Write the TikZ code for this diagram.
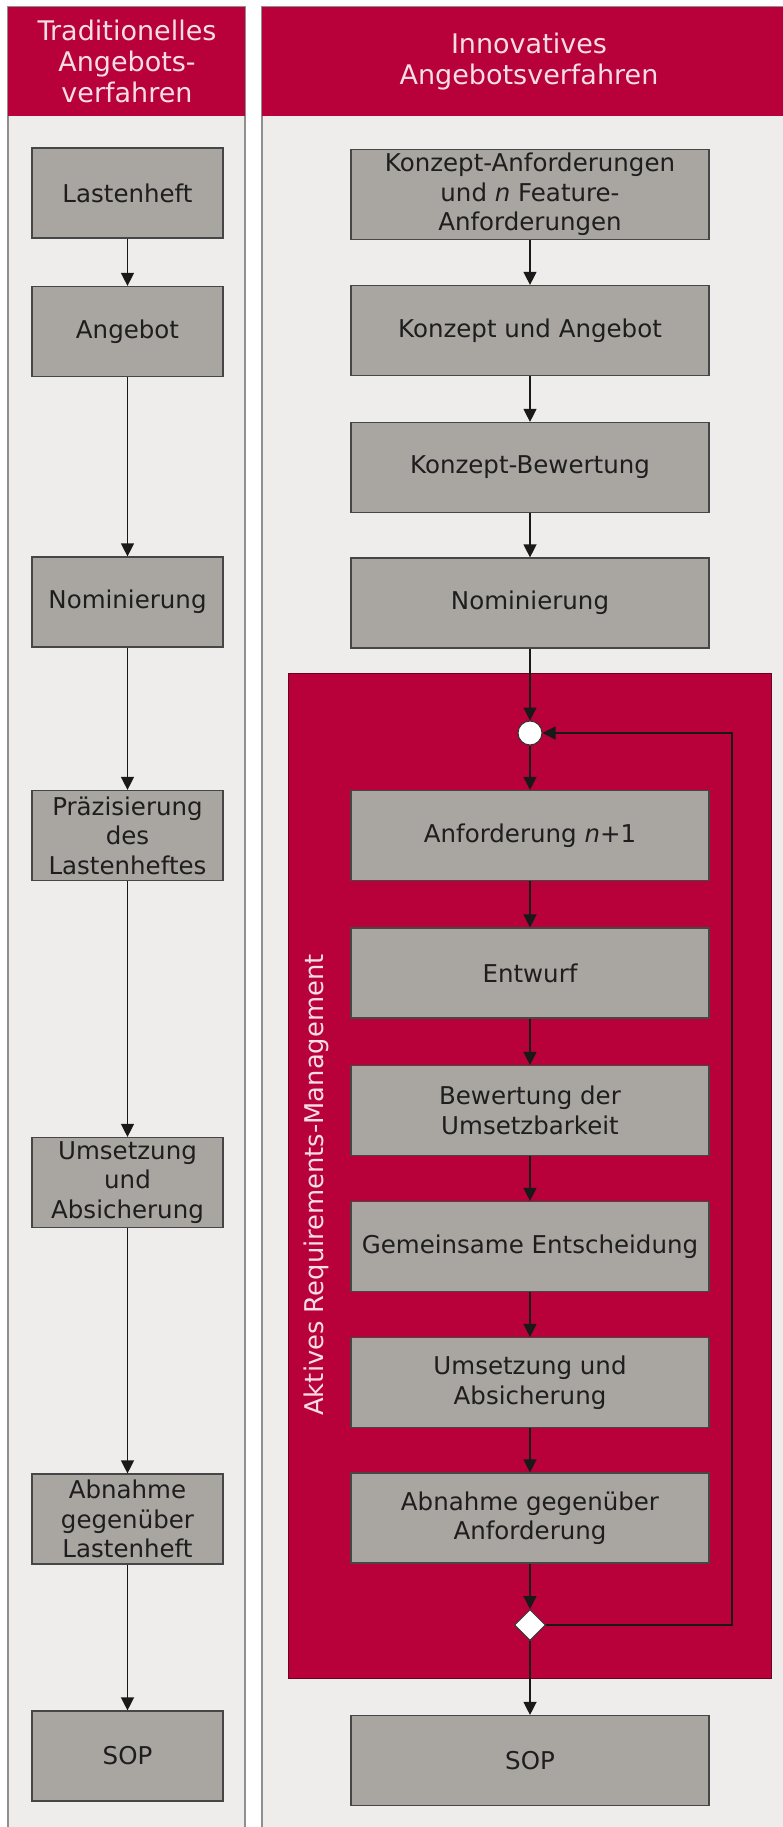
\documentclass[tikz,border=0pt]{standalone}
\usepackage{fontspec}
\setmainfont{DejaVu Sans}
\usetikzlibrary{arrows.meta,shapes.geometric}
\definecolor{crimson}{RGB}{184,0,58}
\definecolor{darkcrimson}{RGB}{110,0,35}
\definecolor{boxgray}{RGB}{169,165,161}
\definecolor{boxline}{RGB}{70,70,70}
\definecolor{boxtext}{RGB}{30,30,30}
\definecolor{panelbg}{RGB}{238,237,235}
\definecolor{panelline}{RGB}{143,143,143}
\definecolor{headtext}{RGB}{247,222,230}
\begin{document}
\begin{tikzpicture}[x=1pt,y=-1pt,
    box/.style={draw=boxline, line width=1.2pt, fill=boxgray, text=boxtext, align=center,
        minimum height=90pt, inner sep=2pt, font=\fontsize{24.5}{29.5}\selectfont},
    lbox/.style={box, minimum width=191pt},
    rbox/.style={box, minimum width=358pt},
    arr/.style={-{Triangle[width=13pt,length=13pt]}, line width=1.3pt, black!90},
    panel/.style={draw=panelline, line width=2pt, fill=panelbg},
    head/.style={text=headtext, align=center, font=\fontsize{27}{31}\selectfont}]
\useasboundingbox (0,0) rectangle (783,1827);
\fill[white] (0,0) rectangle (783,1827);
\draw[panel] (8,7) rectangle (245,1840);
\fill[crimson] (8,7) rectangle (245,116);
\draw[panel] (262,7) rectangle (800,1840);
\fill[crimson] (262,7) rectangle (800,116);
\node[head] (headL) at (127,61){Traditionelles\\Angebots-\\verfahren};
\node[head] (headR) at (529,62){Innovatives\\Angebotsverfahren};
\draw[fill=crimson, draw=darkcrimson, line width=1pt] (288,673) rectangle (771,1678);
\node[rotate=90, text=headtext, font=\fontsize{25.8}{30}\selectfont] (arm) at (316,1185){Aktives Requirements-Management};
\node[lbox] (lasten) at (127.5, 193){Lastenheft};
\node[lbox] (angebot) at (127.5, 331.5){Angebot};
\node[lbox] (nomL) at (127.5, 602){Nominierung};
\node[lbox] (praez) at (127.5, 835.5){Präzisierung\\des\\Lastenheftes};
\node[lbox] (umsL) at (127.5, 1182.5){Umsetzung\\und\\Absicherung};
\node[lbox] (abnL) at (127.5, 1519){Abnahme\\gegenüber\\Lastenheft};
\node[lbox] (sopL) at (127.5, 1756){SOP};
\node[rbox] (konzAnf) at (530, 194.5){Konzept-Anforderungen\\und \textit{n} Feature-\\Anforderungen};
\node[rbox] (konzAng) at (530, 330.5){Konzept und Angebot};
\node[rbox] (konzBew) at (530, 467.5){Konzept-Bewertung};
\node[rbox] (nomR) at (530, 603){Nominierung};
\node[circle, draw=black!80, line width=1pt, fill=white, minimum size=24pt, inner sep=0pt] (circ) at (530, 733){};
\node[rbox] (anf) at (530, 835.5){Anforderung \textit{n}+1};
\node[rbox] (entwurf) at (530, 973){Entwurf};
\node[rbox] (bewert) at (530, 1110.5){Bewertung der\\Umsetzbarkeit};
\node[rbox] (gemeins) at (530, 1246.5){Gemeinsame Entscheidung};
\node[rbox] (umsR) at (530, 1382.5){Umsetzung und\\Absicherung};
\node[rbox] (abnR) at (530, 1518){Abnahme gegenüber\\Anforderung};
\node[diamond, draw=black!80, line width=1pt, fill=white, minimum size=31pt, inner sep=0pt] (dia) at (530, 1625){};
\node[rbox] (sopR) at (530, 1760.5){SOP};
\coordinate (loop) at (732, 733);
\draw[arr] (lasten) -- (angebot);
\draw[arr] (angebot) -- (nomL);
\draw[arr] (nomL) -- (praez);
\draw[arr] (praez) -- (umsL);
\draw[arr] (umsL) -- (abnL);
\draw[arr] (abnL) -- (sopL);
\draw[arr] (konzAnf) -- (konzAng);
\draw[arr] (konzAng) -- (konzBew);
\draw[arr] (konzBew) -- (nomR);
\draw[arr] (nomR) -- (circ);
\draw[arr] (circ) -- (anf);
\draw[arr] (anf) -- (entwurf);
\draw[arr] (entwurf) -- (bewert);
\draw[arr] (bewert) -- (gemeins);
\draw[arr] (gemeins) -- (umsR);
\draw[arr] (umsR) -- (abnR);
\draw[arr] (abnR) -- (dia);
\draw[arr] (dia) -- (sopR);
\draw[arr] (dia.east) -| (loop) -- (circ.east);
\end{tikzpicture}
\end{document}
